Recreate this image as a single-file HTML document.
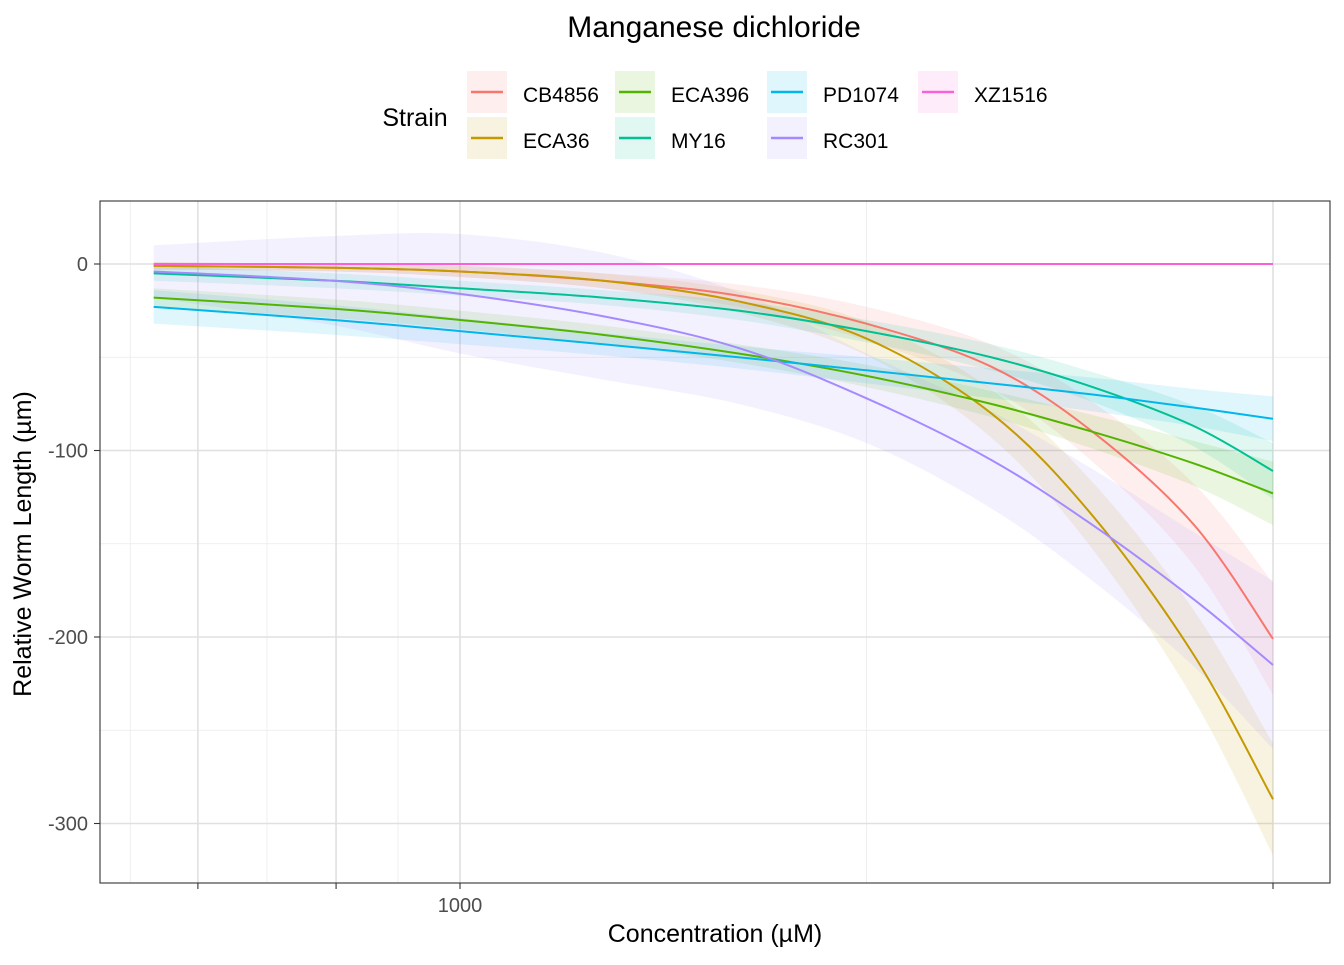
<!DOCTYPE html>
<html><head><meta charset="utf-8"><style>
body{margin:0;background:#fff;font-family:"Liberation Sans",Arial,sans-serif}
</style></head><body>
<svg id="chart" width="1344" height="960" xmlns="http://www.w3.org/2000/svg" font-family="Liberation Sans, Arial, sans-serif">
<text x="714" y="37" text-anchor="middle" font-size="30" fill="#000">Manganese dichloride</text>
<text x="415" y="126" text-anchor="middle" font-size="25" fill="#000">Strain</text>
<g id="legend"></g>
<rect x="100" y="201" width="1230" height="682" fill="#fff"/>
<g id="grid"></g>
<g id="ribbons"></g>
<g id="lines"></g>
<rect x="100" y="201" width="1230" height="682" fill="none" stroke="#333" stroke-width="1.1"/>
<g id="axes"></g>
<text x="715" y="942" text-anchor="middle" font-size="25" fill="#000">Concentration (µM)</text>
<text transform="translate(31,544) rotate(-90)" text-anchor="middle" font-size="25" fill="#000">Relative Worm Length (µm)</text>
</svg>
<script>
const strains=["CB4856","ECA36","ECA396","MY16","PD1074","RC301","XZ1516"];
const colors=["#F8766D","#C49A00","#53B400","#00C094","#00B6EB","#A58AFF","#FB61D7"];
const conc=[420,700,1000,1500,2200,3162,4500,6000,8000,10000];
const vCB4856=[-1,-2,-4,-9,-17,-32,-55,-90,-140,-201];
const vECA36=[-1,-2,-4,-9,-20,-40,-80,-135,-210,-287];
const vECA396=[-18,-24,-30,-38,-48,-60,-75,-90,-107,-123];
const vMY16=[-5,-9,-13,-18,-25,-36,-50,-66,-87,-111];
const vPD1074=[-23,-30,-36,-43,-50,-57,-64,-70,-77,-83];
const vRC301=[-4,-9,-16,-28,-45,-72,-105,-140,-180,-215];
const vXZ1516=[0,0,0,0,0,0,0,0,0,0];
const seCB4856=[2,2,3,4,6,9,12,16,22,30];
const seECA36=[2,2,3,4,6,9,13,18,24,30];
const seECA396=[5,5,5,5,5,6,7,9,12,17];
const seMY16=[4,4,4,4,5,6,7,8,11,15];
const sePD1074=[9,8,7,6,6,7,8,9,10,12];
const seRC301=[14,24,32,34,30,24,26,30,36,45];
const seXZ1516=[0,0,0,0,0,0,0,0,0,0];
const values=[vCB4856,vECA36,vECA396,vMY16,vPD1074,vRC301,vXZ1516];
const ses=[seCB4856,seECA36,seECA396,seMY16,sePD1074,seRC301,seXZ1516];
const yTicks=[0,-100,-200,-300];
const yMinor=[-50,-150,-250];
const xMajor=[476,704,1000,10000];
const xMajorLabels=["","","1000",""];
const xMinor=[393,1000*Math.pow(10,-193/813),1000*Math.pow(10,-62/813),3162];
const NS="http://www.w3.org/2000/svg";
const X=c=>460+813*Math.log10(c/1000);
const Y=v=>264-1.865*v;
function el(tag,attrs,parent){const e=document.createElementNS(NS,tag);for(const k in attrs)e.setAttribute(k,attrs[k]);parent.appendChild(e);return e;}
function smooth(pts){let d="M"+pts[0][0]+","+pts[0][1];for(let i=0;i<pts.length-1;i++){const p0=pts[Math.max(0,i-1)],p1=pts[i],p2=pts[i+1],p3=pts[Math.min(pts.length-1,i+2)];const c1=[p1[0]+(p2[0]-p0[0])/6,p1[1]+(p2[1]-p0[1])/6],c2=[p2[0]-(p3[0]-p1[0])/6,p2[1]-(p3[1]-p1[1])/6];d+=" C"+c1+" "+c2+" "+p2;}return d;}
const grid=document.getElementById('grid'),axes=document.getElementById('axes');
xMinor.forEach(c=>{const g=el('line',{x1:X(c),x2:X(c),y1:201,y2:883,stroke:'#ebebeb','stroke-width':0.8},grid);
});
yMinor.forEach(v=>{const g=el('line',{x1:100,x2:1330,y1:Y(v),y2:Y(v),stroke:'#ebebeb','stroke-width':0.8},grid);
});
xMajor.forEach((c,i)=>{const g=el('line',{x1:X(c),x2:X(c),y1:201,y2:883,stroke:'#e0e0e0','stroke-width':1.6},grid);

const t=el('line',{x1:X(c),x2:X(c),y1:883,y2:889,stroke:'#333','stroke-width':1.1},axes);

if(xMajorLabels[i]){const l=el('text',{x:X(c),y:912,'text-anchor':'middle','font-size':20,fill:'#4d4d4d'},axes);l.textContent=xMajorLabels[i];
}});
yTicks.forEach(v=>{const g=el('line',{x1:100,x2:1330,y1:Y(v),y2:Y(v),stroke:'#e0e0e0','stroke-width':1.6},grid);

const t=el('line',{x1:94,x2:100,y1:Y(v),y2:Y(v),stroke:'#333','stroke-width':1.1},axes);

const l=el('text',{x:88,y:Y(v)+7,'text-anchor':'end','font-size':20,fill:'#4d4d4d'},axes);l.textContent=v;
});
const rib=document.getElementById('ribbons'),lin=document.getElementById('lines');
strains.forEach((s,i)=>{const v=values[i],se=ses[i];
const up=conc.map((c,j)=>[X(c),Y(v[j]+se[j])]),lo=conc.map((c,j)=>[X(c),Y(v[j]-se[j])]).reverse();
let d=smooth(up)+" L"+lo[0]+smooth(lo).slice(smooth(lo).indexOf(" C"))+" Z";
if(Math.max(...se)>0){const r=el('path',{d:d,fill:colors[i],'fill-opacity':0.12,stroke:'none'},rib);
}
const p=el('path',{d:smooth(conc.map((c,j)=>[X(c),Y(v[j])])),fill:'none',stroke:colors[i],'stroke-width':2},lin);
});
const leg=document.getElementById('legend');
const kx=[467,615,767,918];
strains.forEach((s,i)=>{const col=Math.floor(i/2),row=i%2;const x=kx[col],y=71+row*46;
const g=el('g',{},leg);
el('rect',{x:x,y:y,width:40,height:42,fill:colors[i],'fill-opacity':0.12},g);
el('line',{x1:x+4,x2:x+36,y1:y+21,y2:y+21,stroke:colors[i],'stroke-width':2.5},g);
const t=el('text',{x:x+56,y:y+31,'font-size':21,fill:'#000'},g);t.textContent=s;});
</script>
</body></html>
